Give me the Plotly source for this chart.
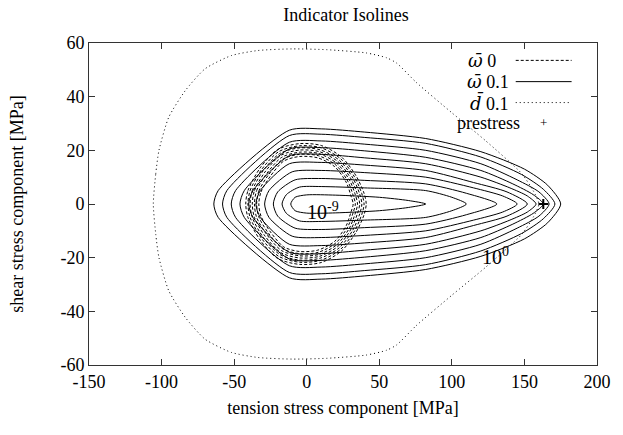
import plotly.graph_objects as go

# ---------------- data ----------------
# solid isolines (omega-bar 0.1): upper-half points, lower half is mirror image
solid_x = [
    [-11, -8, 0, 20, 50, 70, 82],
    [-17, -14, -5, 10, 40, 82, 100, 110],
    [-23, -20, -8, 10, 40, 82, 110, 131],
    [-29, -26, -10, 10, 40, 82, 115, 135, 145],
    [-35, -32, -12, 10, 40, 82, 115, 138, 152],
    [-40, -37, -12, 10, 40, 82, 120, 140, 152, 158],
    [-46, -43, -12, 10, 40, 82, 120, 142, 156, 163],
    [-52, -49, -12, 10, 40, 82, 120, 145, 160, 167],
    [-58, -55, -12, 10, 40, 82, 120, 148, 163, 171],
    [-64, -61, -12, 10, 40, 82, 120, 150, 166, 175],
]
solid_y = [
    [0, 2.5, 3.4, 3.3, 2.5, 1.3, 0],
    [0, 3.5, 6.3, 6.5, 6.0, 5.0, 2.5, 0],
    [0, 4.5, 9.0, 9.5, 8.8, 7.5, 4.0, 0],
    [0, 5, 12.0, 12.5, 11.7, 10.0, 6.0, 3.0, 0],
    [0, 5, 15.0, 15.5, 14.5, 12.5, 8.0, 4.5, 0],
    [0, 5, 18.0, 18.5, 17.2, 15.0, 10.0, 6.0, 3.0, 0],
    [0, 5, 20.5, 21.0, 19.8, 17.4, 12.5, 7.5, 3.5, 0],
    [0, 5, 23.0, 23.5, 22.3, 20.0, 15.0, 9.0, 4.5, 0],
    [0, 5, 25.5, 26.0, 24.8, 22.6, 17.5, 11.0, 5.5, 0],
    [0, 5, 27.5, 28.0, 26.8, 24.4, 19.5, 13.0, 7.0, 0],
]

# dashed isolines (omega-bar 0): dense ring band, upper-half points
ring_x = [
    [-42, -40.5, -32, -20, -5, 10, 24, 34, 39.5, 41],
    [-40.5, -39, -31, -19.3, -5, 9.6, 23.3, 32.9, 38, 39.5],
    [-39, -37.5, -30, -18.6, -5, 9.2, 22.5, 31.8, 36.5, 38],
    [-37.5, -36, -28.8, -17.9, -5, 8.8, 21.7, 30.6, 35, 36.5],
    [-36, -34.5, -27.5, -17.2, -5, 8.4, 20.9, 29.5, 33.5, 35],
    [-34.5, -33, -26.3, -16.5, -5, 8, 20.1, 28.3, 32, 33.5],
    [-33, -31.5, -25, -15.8, -5, 7.6, 19.3, 27.2, 30.5, 32],
]
ring_y = [
    [0, 5, 13.5, 20.3, 22.5, 21.8, 17.5, 10.5, 4, 0],
    [0, 5, 12.9, 19.5, 21.7, 21, 16.9, 10.1, 3.8, 0],
    [0, 5, 12.4, 18.8, 20.9, 20.2, 16.3, 9.7, 3.7, 0],
    [0, 5, 11.9, 18.1, 20.1, 19.5, 15.7, 9.3, 3.5, 0],
    [0, 5, 11.4, 17.4, 19.3, 18.8, 15.1, 8.9, 3.4, 0],
    [0, 4.8, 10.9, 16.7, 18.5, 18, 14.5, 8.5, 3.2, 0],
    [0, 4.5, 10.4, 16, 17.7, 17.2, 13.9, 8.1, 3, 0],
]

# dotted curve (d-bar 0.1): upper half
dot_x = [-105.7, -104, -101.8, -95, -83.6, -70, -52, -33.6, -10, 14, 41, 55, 62,
         75.5, 100, 123, 148, 156, 160]
dot_y = [0, 11.3, 20, 32.4, 42.3, 50.4, 55.3, 57.2, 57.8, 57.5, 56.3, 54.5, 52.5,
         45.3, 34, 23.7, 11.4, 5, 0]

prestress_x = [163]
prestress_y = [0]

SYM = '<span style="font-family:\'DejaVu Serif\'"><i>{}</i></span>'
legend_labels = [SYM.format("ω\u0304") + " 0", SYM.format("ω\u0304") + " 0.1",
                 SYM.format("d\u0304") + " 0.1", "prestress"]
x_ticks = [-150, -100, -50, 0, 50, 100, 150, 200]
y_ticks = [-60, -40, -20, 0, 20, 40, 60]

FONT = "Liberation Serif"
FS = 18


def closed(xs, ys):
    """upper half left->right, then mirrored lower half right->left"""
    cx = list(xs) + list(reversed(xs[:-1]))
    cy = list(ys) + [-v for v in reversed(ys[:-1])]
    return cx, cy


fig = go.Figure()

for xs, ys in zip(solid_x, solid_y):
    cx, cy = closed(xs, ys)
    fig.add_trace(go.Scatter(x=cx, y=cy, mode="lines",
                             line=dict(color="black", width=1, shape="spline", smoothing=0.7),
                             hoverinfo="skip"))

for xs, ys in zip(ring_x, ring_y):
    cx, cy = closed(xs, ys)
    fig.add_trace(go.Scatter(x=cx, y=cy, mode="lines",
                             line=dict(color="black", width=1, dash="3px,2px",
                                       shape="spline", smoothing=0.8),
                             hoverinfo="skip"))

cx, cy = closed(dot_x, dot_y)
fig.add_trace(go.Scatter(x=cx, y=cy, mode="lines",
                         line=dict(color="black", width=1, dash="1px,3px",
                                   shape="spline", smoothing=0.6),
                         hoverinfo="skip"))

fig.add_trace(go.Scatter(x=prestress_x, y=prestress_y, mode="markers",
                         marker=dict(symbol="cross-thin", size=7, color="black",
                                     line=dict(color="black", width=2))))

# contour labels
fig.add_annotation(x=11.5, y=-2.7, text="10<sup>-9</sup>", showarrow=False,
                   font=dict(family=FONT, size=20, color="black"))
fig.add_annotation(x=130, y=-19.5, text="10<sup>0</sup>", showarrow=False,
                   font=dict(family=FONT, size=20, color="black"))

# gnuplot-style key: text on the left, sample on the right (paper coordinates)
key_text_right = [0.805, 0.830, 0.830, 0.852]
key_row_y = [0.946, 0.880, 0.815, 0.752]
for lab, xr, yy in zip(legend_labels, key_text_right, key_row_y):
    fig.add_annotation(xref="paper", yref="paper", x=xr, y=yy, text=lab,
                       showarrow=False, xanchor="right", yanchor="middle",
                       font=dict(family=FONT, size=FS, color="black"))
key_styles = [dict(dash="3px,2px"), dict(), dict(dash="1px,3px")]
for st, yy in zip(key_styles, key_row_y[:3]):
    fig.add_shape(type="line", xref="paper", yref="paper", x0=0.84, x1=0.95, y0=yy, y1=yy,
                  line=dict(color="black", width=1, **st))
fig.add_annotation(xref="paper", yref="paper", x=0.895, y=key_row_y[3], text="+",
                   showarrow=False, xanchor="center", yanchor="middle",
                   font=dict(family=FONT, size=13, color="black"))

axis_common = dict(showgrid=False, zeroline=False, showline=True, linecolor="#333",
                   linewidth=1, mirror="allticks", ticks="inside", ticklen=6,
                   tickcolor="#333", tickfont=dict(family=FONT, size=FS, color="black"))

fig.update_layout(
    width=623, height=435,
    margin=dict(l=89, r=20, t=43, b=70),
    paper_bgcolor="white", plot_bgcolor="white",
    showlegend=False,
    title=dict(text="Indicator Isolines", x=0.5555, xanchor="center", y=0.967, yanchor="middle",
               font=dict(family=FONT, size=FS, color="black")),
    xaxis=dict(range=[-150, 200], tickvals=x_ticks, ticktext=[str(v) for v in x_ticks],
               title=dict(text="tension stress component [MPa]", standoff=10,
                          font=dict(family=FONT, size=FS, color="black")),
               **axis_common),
    yaxis=dict(range=[-60, 60], tickvals=y_ticks, ticktext=[str(v) for v in y_ticks],
               title=dict(text="shear stress component [MPa]", standoff=32,
                          font=dict(family=FONT, size=FS, color="black")),
               **axis_common),
)

fig.write_html("out.html")
